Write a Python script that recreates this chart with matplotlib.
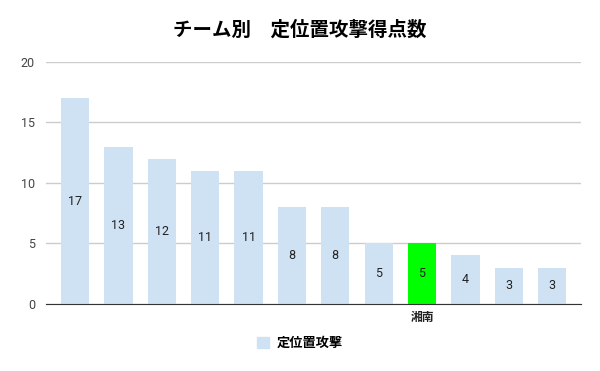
import matplotlib.pyplot as plt

plt.rcParams['font.family'] = ['Noto Sans CJK JP', 'DejaVu Sans']

# data
teams = ['', '', '', '', '', '', '', '', '湘南', '', '', '']
values = [17, 13, 12, 11, 11, 8, 8, 5, 5, 4, 3, 3]
highlight = '湘南'

base_color = '#cfe2f3'
hi_color = '#00ff00'
colors = [hi_color if t == highlight else base_color for t in teams]

fig = plt.figure(figsize=(6, 3.71), dpi=100, facecolor='w')
ax = fig.add_axes([0.0767, 0.181, 0.892, 0.652])

x = list(range(len(values)))
bars = ax.bar(x, values, width=0.65, color=colors, zorder=2)

for xi, v in zip(x, values):
    ax.text(xi, v / 2, str(v), ha='center', va='center', fontsize=9,
            color='#222222', family=['Roboto', 'DejaVu Sans'], zorder=3)

ax.set_xlim(-0.67, len(values) - 1 + 0.67)
ax.set_ylim(0, 20)
ax.set_yticks([0, 5, 10, 15, 20])
ax.yaxis.grid(True, color='#cccccc', linewidth=1, zorder=0)
ax.set_xticks(x)
ax.set_xticklabels(teams, fontsize=8.5, fontweight='bold', color='#222222')
ax.tick_params(axis='both', length=0)
ax.tick_params(axis='y', labelsize=9, labelcolor='#444444', pad=8)
ax.tick_params(axis='x', pad=5)
for lbl in ax.get_yticklabels():
    lbl.set_family(['Roboto', 'DejaVu Sans'])

for side in ['top', 'right', 'left']:
    ax.spines[side].set_visible(False)
ax.spines['bottom'].set_color('#333333')
ax.spines['bottom'].set_zorder(4)

fig.text(0.5, 0.918, 'チーム別\u3000定位置攻撃得点数', ha='center', va='center',
         fontsize=14, fontweight='bold', color='#000000')

handle = plt.Rectangle((0, 0), 1, 1, color=base_color)
fig.legend([handle], ['定位置攻撃'], loc='center', bbox_to_anchor=(0.5, 0.075),
           frameon=False, prop={'size': 9.5, 'weight': 'bold'},
           handlelength=0.9, handleheight=0.9, handletextpad=0.6)

fig.savefig('out.png', dpi=100)
